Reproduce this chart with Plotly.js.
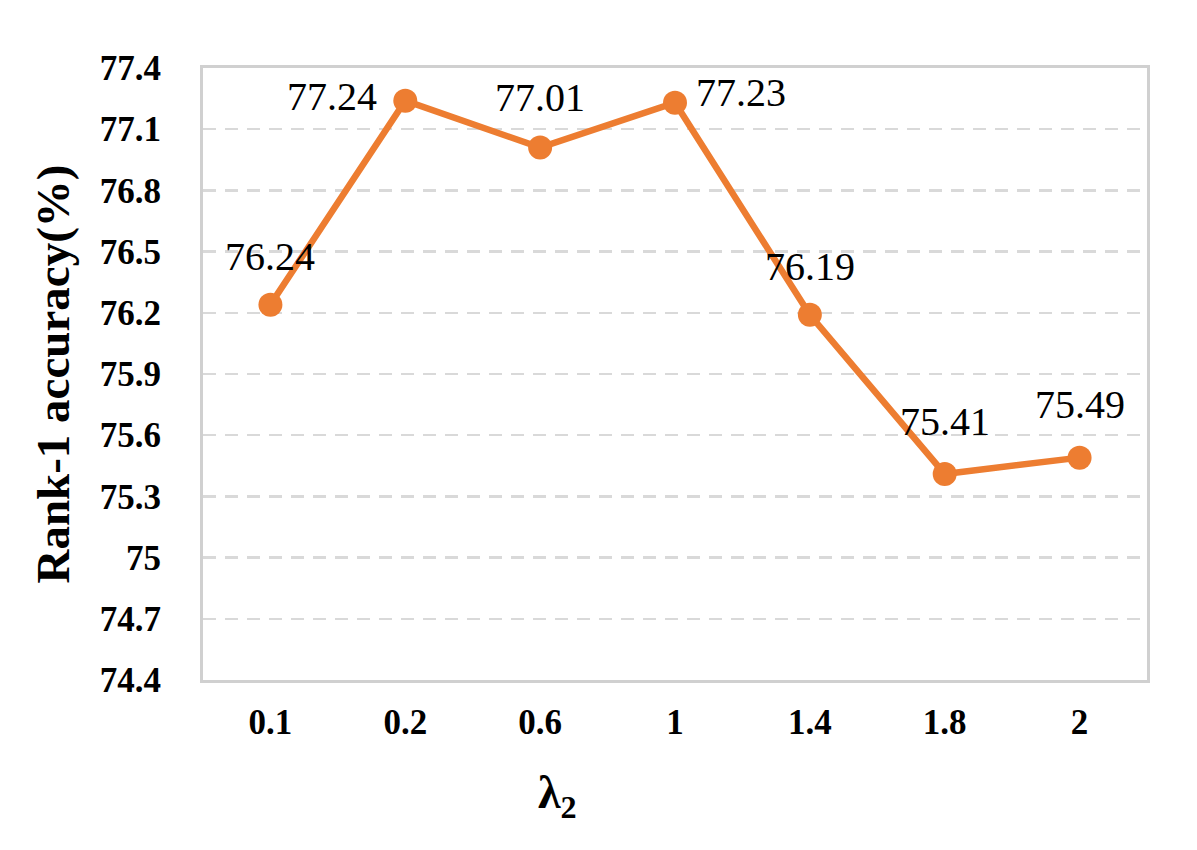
<!DOCTYPE html>
<html>
<head>
<meta charset="utf-8">
<script src="https://cdn.plot.ly/plotly-3.0.1.min.js"></script>
<style>
  html, body { margin: 0; padding: 0; background: #fff; }
  #chart { width: 1197px; height: 850px; }
</style>
</head>
<body>
<div id="chart"></div>
<script>
// 資料
const lambdaLabels = ["0.1", "0.2", "0.6", "1", "1.4", "1.8", "2"];
const rank1Acc = [76.24, 77.24, 77.01, 77.23, 76.19, 75.41, 75.49];
const yTickVals = [74.4, 74.7, 75, 75.3, 75.6, 75.9, 76.2, 76.5, 76.8, 77.1, 77.4];

// 標籤偏移 (像素)
const labelShiftX = [0, -73, 0, 66, 0, 0, 0];
const labelShiftY = [48, 4, 50, 10, 48, 52, 53];

const SERIF = "Liberation Serif, Times New Roman, serif";
const ORANGE = "#ED7D31";

const trace = {
    x: lambdaLabels,
    y: rank1Acc,
    type: "scatter",
    mode: "lines+markers",
    line: { color: ORANGE, width: 6.5 },
    marker: { color: ORANGE, size: 24 },
    hoverinfo: "skip",
};

// 類別軸上以索引定位標註
const annotations = rank1Acc.map((v, i) => ({
    x: i,
    y: v,
    xref: "x",
    yref: "y",
    text: v.toFixed(2),
    showarrow: false,
    xanchor: "center",
    yanchor: "middle",
    xshift: labelShiftX[i],
    yshift: labelShiftY[i],
    font: { family: SERIF, size: 40, color: "#000" },
}));

// x 軸標題 (原圖偏左，不在繪圖區中央)
annotations.push({
    x: 0.375,
    y: -0.19,
    xref: "paper",
    yref: "paper",
    text: "<b>λ<sub>2</sub></b>",
    showarrow: false,
    xanchor: "center",
    yanchor: "middle",
    font: { family: SERIF, size: 46, color: "#000" },
});

const layout = {
    width: 1197,
    height: 850,
    paper_bgcolor: "#fff",
    plot_bgcolor: "#fff",
    showlegend: false,
    font: { family: SERIF, color: "#000" },
    margin: { l: 203, r: 50, t: 68, b: 170 },
    xaxis: {
        type: "category",
        range: [-0.5, 6.5],
        showgrid: false,
        showline: true,
        mirror: true,
        linecolor: "#d0d0d0",
        linewidth: 3,
        ticks: "",
        tickfont: { family: SERIF, size: 35, color: "#000", weight: "bold" },
        ticklabelstandoff: 9,
    },
    yaxis: {
        range: [74.4, 77.4],
        tickvals: yTickVals,
        ticktext: yTickVals.map((v) => String(v)),
        showgrid: true,
        gridcolor: "#d9d9d9",
        gridwidth: 2.5,
        griddash: "13px,9px",
        zeroline: false,
        showline: true,
        mirror: true,
        linecolor: "#d0d0d0",
        linewidth: 3,
        ticks: "",
        tickfont: { family: SERIF, size: 35, color: "#000", weight: "bold" },
        ticklabelstandoff: 32,
        title: {
            text: "<b>Rank-1 accuracy(%)</b>",
            font: { family: SERIF, size: 47, color: "#000" },
            standoff: 16,
        },
    },
    annotations: annotations,
};

Plotly.newPlot("chart", [trace], layout, { displayModeBar: false, staticPlot: true });
</script>
</body>
</html>
